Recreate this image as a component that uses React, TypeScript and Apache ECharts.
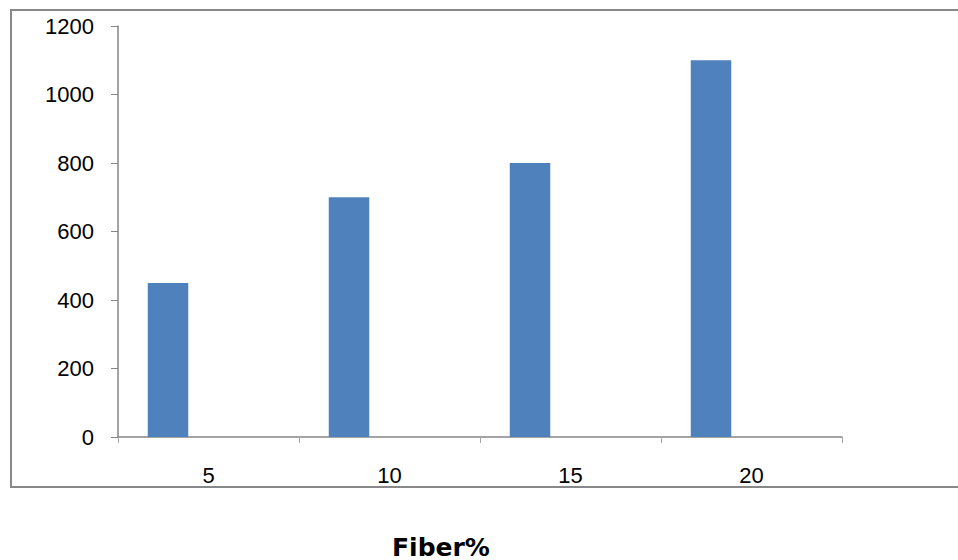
import React, { useEffect, useRef } from "react";
import * as echarts from "echarts";

const categories: string[] = ["5", "10", "15", "20"];
const fiberValues: number[] = [450, 700, 800, 1100];
const emptySeriesA: (number | null)[] = [null, null, null, null];
const emptySeriesB: (number | null)[] = [null, null, null, null];
const yMin = 0;
const yMax = 1200;
const yStep = 200;
const axisTitle = "Fiber%";

const LABEL_FONT = "'Liberation Sans', Arial, sans-serif";
const AXIS_GRAY = "#868686";

export default function App() {
  const ref = useRef<HTMLDivElement>(null);

  useEffect(() => {
    document.body.style.margin = "0";
    if (!ref.current) return;
    const chart = echarts.init(ref.current, null, { renderer: "svg" });
    const barWidth = 40.5;
    chart.setOption({
      animation: false,
      backgroundColor: "#ffffff",
      grid: { left: 118, right: 116, top: 26, bottom: 123, containLabel: false },
      xAxis: {
        type: "category",
        data: categories,
        boundaryGap: true,
        axisLine: { show: true, lineStyle: { color: AXIS_GRAY, width: 1.5 } },
        axisTick: { show: true, alignWithLabel: false, length: 6, lineStyle: { color: "#a6a6a6", width: 1 } },
        axisLabel: { margin: 27, fontSize: 22, fontFamily: LABEL_FONT, color: "#000" },
        splitLine: { show: false },
      },
      yAxis: {
        type: "value",
        min: yMin,
        max: yMax,
        interval: yStep,
        axisLine: { show: true, lineStyle: { color: AXIS_GRAY, width: 1.5 } },
        axisTick: { show: true, length: 7, lineStyle: { color: AXIS_GRAY, width: 1 } },
        axisLabel: {
          margin: 24,
          fontSize: 22,
          fontFamily: LABEL_FONT,
          color: "#000",
          formatter: (v: number) => String(v),
        },
        splitLine: { show: false },
      },
      series: [
        { type: "bar", data: fiberValues, barWidth, barGap: "0%", itemStyle: { color: "#4F81BD" } },
        { type: "bar", data: emptySeriesA, barWidth, barGap: "0%", itemStyle: { color: "#C0504D" } },
        { type: "bar", data: emptySeriesB, barWidth, barGap: "0%", itemStyle: { color: "#9BBB59" } },
      ],
      graphic: [
        {
          type: "rect",
          shape: { x: 11, y: 10, width: 1000, height: 477 },
          style: { fill: "none", stroke: "#888888", lineWidth: 2 },
          silent: true,
        },
        {
          type: "text",
          style: {
            text: axisTitle,
            x: 441,
            y: 547,
            align: "center",
            verticalAlign: "middle",
            lineHeight: 25,
            font: "bold 25px 'DejaVu Sans', Verdana, sans-serif",
            fill: "#000",
          },
        },
      ],
    });
    return () => chart.dispose();
  }, []);

  return <div ref={ref} style={{ width: 958, height: 560 }} />;
}
